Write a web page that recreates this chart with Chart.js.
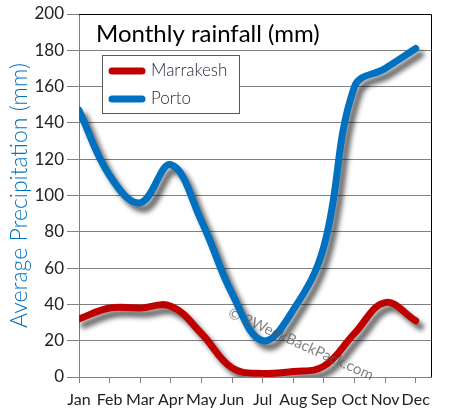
<!DOCTYPE html>
<html>
<head>
<meta charset="utf-8">
<script src="https://cdn.jsdelivr.net/npm/chart.js@4.4.1/dist/chart.umd.min.js"></script>
<style>
  html, body { margin: 0; padding: 0; background: #fff; }
  #wrap { width: 451px; height: 418px; position: relative; }
</style>
</head>
<body>
<div id="wrap"><canvas id="myChart"></canvas></div>
<script>
// datos
const meses = ["Jan","Feb","Mar","Apr","May","Jun","Jul","Aug","Sep","Oct","Nov","Dec"];
const marrakesh = [32, 38, 38, 39, 24, 5, 2, 3, 6, 24, 41, 31];
const porto = [147, 111, 96, 117, 86, 46, 20, 37, 72, 160, 170, 181];
const ticksY = [0, 20, 40, 60, 80, 100, 120, 140, 160, 180, 200];
const titulo = "Monthly rainfall (mm)";
const tituloEje = "Average Precipitation (mm)";
const marcaAgua = "\u00A9 2WeekBackPack.com";

const fuente = "Lato, 'DejaVu Sans', sans-serif";
const colores = {"Marrakesh": "#C00000", "Porto": "#0070C0"};

// sombra de las lineas
const sombra = {
    id: "sombra",
    beforeDatasetsDraw(chart) {
        const ctx = chart.ctx;
        ctx.save();
        ctx.shadowColor = "rgba(0,0,0,0.6)";
        ctx.shadowBlur = 5;
        ctx.shadowOffsetX = 5;
        ctx.shadowOffsetY = 6;
    },
    afterDatasetsDraw(chart) {
        chart.ctx.restore();
    }
};

// titulo, leyenda, borde y marca de agua
const extras = {
    id: "extras",
    afterDraw(chart) {
        const ctx = chart.ctx;
        const a = chart.chartArea;
        ctx.save();
        // borde superior y derecho
        ctx.strokeStyle = "#000";
        ctx.lineWidth = 1;
        ctx.beginPath();
        ctx.moveTo(a.left, a.top + 0.5);
        ctx.lineTo(a.right + 0.5, a.top + 0.5);
        ctx.lineTo(a.right + 0.5, a.bottom);
        ctx.stroke();

        // titulo
        ctx.fillStyle = "#000";
        ctx.font = "24px " + fuente;
        ctx.textBaseline = "alphabetic";
        ctx.fillText(titulo, a.left + 17, a.top + 28);

        // leyenda
        const lx = a.left + 23, ly = a.top + 41, lw = 137, lh = 58;
        ctx.fillStyle = "#fff";
        ctx.fillRect(lx, ly, lw, lh);
        ctx.strokeStyle = "#595959";
        ctx.strokeRect(lx + 0.5, ly + 0.5, lw, lh);
        chart.data.datasets.forEach((ds, i) => {
            const y = ly + 16 + i * 28;
            ctx.strokeStyle = ds.borderColor;
            ctx.lineWidth = 7;
            ctx.lineCap = "round";
            ctx.beginPath();
            ctx.moveTo(lx + 10, y);
            ctx.lineTo(lx + 40, y);
            ctx.stroke();
            ctx.fillStyle = "#2a2a3a";
            ctx.font = "300 17px " + fuente;
            ctx.textBaseline = "middle";
            ctx.fillText(ds.label, lx + 49, y);
        });

        // marca de agua
        ctx.translate(a.left + 150, a.top + 298);
        ctx.rotate(24 * Math.PI / 180);
        ctx.fillStyle = "rgba(90,90,90,0.75)";
        ctx.font = "15px " + fuente;
        ctx.textBaseline = "middle";
        ctx.fillText(marcaAgua, 0, 0);
        ctx.restore();
    }
};

const datasets = [
    {label: "Marrakesh", data: marrakesh.map((v, i) => ({x: i, y: v}))},
    {label: "Porto", data: porto.map((v, i) => ({x: i, y: v}))}
].map((ds) => ({
    ...ds,
    borderColor: colores[ds.label],
    backgroundColor: colores[ds.label],
    borderWidth: 7,
    pointRadius: 0,
    tension: 0.4,
    fill: false,
    borderCapStyle: "round"
}));

const config = {
    type: "line",
    data: {datasets},
    options: {
        responsive: true,
        maintainAspectRatio: false,
        animation: false,
        layout: {padding: {left: 6, right: 20, top: 14, bottom: 0}},
        plugins: {legend: {display: false}, tooltip: {enabled: false}},
        scales: {
            x: {
                type: "linear",
                min: 0,
                max: 11.5,
                afterBuildTicks: (s) => { s.ticks = meses.map((m, i) => ({value: i})); },
                afterFit: (s) => { s.height = 41; },
                grid: {drawOnChartArea: false, drawTicks: true, tickLength: 6, color: "#808080"},
                border: {color: "#808080"},
                ticks: {
                    callback: (v) => meses[v],
                    color: "#222",
                    font: {family: fuente, size: 16},
                    padding: 7,
                    maxRotation: 0,
                    autoSkip: false
                }
            },
            y: {
                min: 0,
                max: 200,
                afterBuildTicks: (s) => { s.ticks = ticksY.map((v) => ({value: v})); },
                afterFit: (s) => { s.width = 73; },
                grid: {color: "#808080", tickLength: 12},
                border: {color: "#808080"},
                ticks: {
                    color: "#222",
                    font: {family: fuente, size: 17},
                    padding: 3
                },
                title: {
                    display: true,
                    text: tituloEje,
                    color: "#0070C0",
                    font: {family: fuente, size: 23, weight: 300},
                    padding: {top: 0, bottom: 0}
                }
            }
        }
    },
    plugins: [sombra, extras]
};

new Chart(document.getElementById("myChart"), config);
</script>
</body>
</html>
